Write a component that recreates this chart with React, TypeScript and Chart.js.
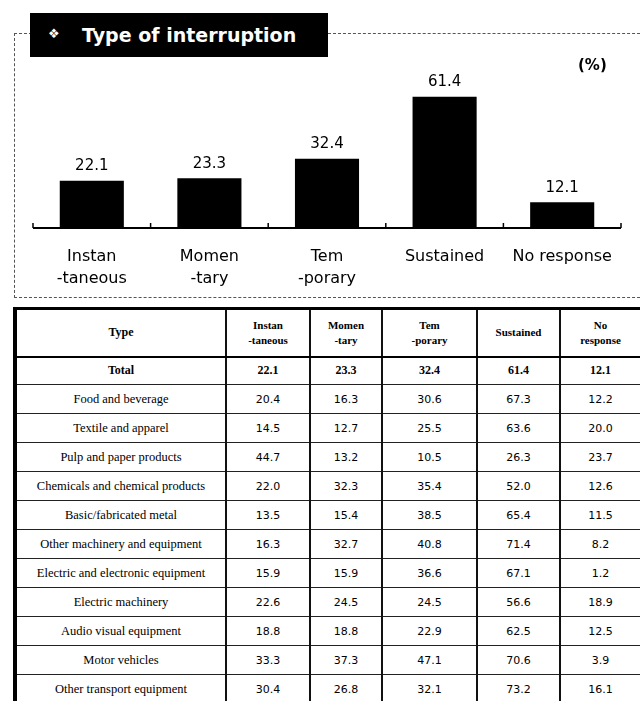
import React, { useEffect, useRef } from 'react';
import { Chart, registerables } from 'chart.js';

Chart.register(...registerables);

// Bar chart: share of firms by type of power interruption (%)
const categories: string[][] = [
  ['Instan', '-taneous'],
  ['Momen', '-tary'],
  ['Tem', '-porary'],
  ['Sustained'],
  ['No response'],
];
const shares = [22.1, 23.3, 32.4, 61.4, 12.1];

// Table headings
const tableHeads: string[][] = [
  ['Instan', '-taneous'],
  ['Momen', '-tary'],
  ['Tem', '-porary'],
  ['Sustained'],
  ['No', 'response'],
];

// Table rows by industry
const industries = [
  'Food and beverage',
  'Textile and apparel',
  'Pulp and paper products',
  'Chemicals and chemical products',
  'Basic/fabricated metal',
  'Other machinery and equipment',
  'Electric and electronic equipment',
  'Electric machinery',
  'Audio visual equipment',
  'Motor vehicles',
  'Other transport equipment',
];
const instantaneous = [20.4, 14.5, 44.7, 22.0, 13.5, 16.3, 15.9, 22.6, 18.8, 33.3, 30.4];
const momentary = [16.3, 12.7, 13.2, 32.3, 15.4, 32.7, 15.9, 24.5, 18.8, 37.3, 26.8];
const temporary = [30.6, 25.5, 10.5, 35.4, 38.5, 40.8, 36.6, 24.5, 22.9, 47.1, 32.1];
const sustained = [67.3, 63.6, 26.3, 52.0, 65.4, 71.4, 67.1, 56.6, 62.5, 70.6, 73.2];
const noResponse = [12.2, 20.0, 23.7, 12.6, 11.5, 8.2, 1.2, 18.9, 12.5, 3.9, 16.1];

const SANS = '"DejaVu Sans", Verdana, sans-serif';
const SERIF = '"Liberation Serif", "DejaVu Serif", serif';

// Baseline with upward ticks at category boundaries, plus value labels
const barDecor = {
  id: 'barDecor',
  afterDatasetsDraw(chart: any) {
    const { ctx, chartArea, scales } = chart;
    const x = scales.x;
    const y0 = chartArea.bottom;
    ctx.save();
    ctx.strokeStyle = '#000';
    ctx.lineWidth = 2;
    const left = x.getPixelForValue(-0.5);
    const right = x.getPixelForValue(categories.length - 0.5);
    ctx.beginPath();
    ctx.moveTo(left, y0);
    ctx.lineTo(right, y0);
    ctx.stroke();
    ctx.lineWidth = 1.5;
    for (let i = 0; i <= categories.length; i++) {
      const px = x.getPixelForValue(i - 0.5);
      ctx.beginPath();
      ctx.moveTo(px, y0);
      ctx.lineTo(px, y0 - 5);
      ctx.stroke();
    }
    const meta = chart.getDatasetMeta(0);
    ctx.fillStyle = '#000';
    ctx.font = `15px ${SANS}`;
    ctx.textAlign = 'center';
    ctx.textBaseline = 'bottom';
    meta.data.forEach((bar: any, i: number) => {
      ctx.fillText(shares[i].toFixed(1), bar.x, bar.y - 7);
    });
    ctx.restore();
  },
};

function BarChart() {
  const ref = useRef<HTMLCanvasElement>(null);
  useEffect(() => {
    if (!ref.current) return;
    const chart = new Chart(ref.current, {
      type: 'bar',
      data: {
        labels: categories,
        datasets: [
          {
            data: shares,
            backgroundColor: '#000',
            borderWidth: 0,
            categoryPercentage: 1,
            barPercentage: 0.545,
          },
        ],
      },
      options: {
        animation: false,
        responsive: false,
        layout: { padding: { top: 57, left: 33, right: 19, bottom: 16 } },
        plugins: { legend: { display: false }, tooltip: { enabled: false } },
        scales: {
          x: {
            grid: { display: false },
            border: { display: false },
            ticks: {
              color: '#000',
              padding: 10,
              maxRotation: 0,
              autoSkip: false,
              font: { family: SANS, size: 16, lineHeight: 1.375 },
            },
          },
          y: { display: false, min: 0, max: 80 },
        },
      },
      plugins: [barDecor],
    });
    return () => chart.destroy();
  }, []);
  return (
    <canvas
      ref={ref}
      width={640}
      height={316}
      style={{ position: 'absolute', left: 0, top: 0, width: 640, height: 316 }}
    />
  );
}

const colWidths = [211, 84, 72, 95, 83, 81];

const cellBase: React.CSSProperties = {
  borderLeft: '2px solid #111',
  borderRight: '2px solid #111',
  borderTop: '1.5px solid #222',
  borderBottom: '1.5px solid #222',
  textAlign: 'center',
  verticalAlign: 'middle',
  padding: 0,
  color: '#000',
};

function DataTable() {
  const rows = industries.map((name, i) => [
    name,
    instantaneous[i],
    momentary[i],
    temporary[i],
    sustained[i],
    noResponse[i],
  ]);
  return (
    <table
      style={{
        position: 'absolute',
        left: 13,
        top: 307,
        width: 626,
        borderCollapse: 'collapse',
        tableLayout: 'fixed',
        borderTop: '3px solid #000',
        borderLeft: '4px solid #000',
        background: '#fff',
      }}
    >
      <colgroup>
        {colWidths.map((w, i) => (
          <col key={i} style={{ width: w }} />
        ))}
      </colgroup>
      <tbody>
        <tr style={{ height: 48 }}>
          <td
            style={{
              ...cellBase,
              borderLeft: '4px solid #000',
              borderTop: '3px solid #000',
              borderBottom: '2px solid #000',
              fontFamily: SERIF,
              fontWeight: 'bold',
              fontSize: 12,
            }}
          >
            Type
          </td>
          {tableHeads.map((h, i) => (
            <td
              key={i}
              style={{
                ...cellBase,
                borderTop: '3px solid #000',
                borderBottom: '2px solid #000',
                fontFamily: SERIF,
                fontWeight: 'bold',
                fontSize: 11,
                lineHeight: '15px',
              }}
            >
              {h.map((line, j) => (
                <div key={j}>{line}</div>
              ))}
            </td>
          ))}
        </tr>
        <tr style={{ height: 28 }}>
          <td
            style={{
              ...cellBase,
              borderLeft: '4px solid #000',
              fontFamily: SERIF,
              fontWeight: 'bold',
              fontSize: 12,
            }}
          >
            Total
          </td>
          {shares.map((v, i) => (
            <td
              key={i}
              style={{ ...cellBase, fontFamily: SERIF, fontWeight: 'bold', fontSize: 12 }}
            >
              {v.toFixed(1)}
            </td>
          ))}
        </tr>
        {rows.map((r, i) => (
          <tr key={i} style={{ height: 29 }}>
            <td
              style={{
                ...cellBase,
                borderLeft: '4px solid #000',
                fontFamily: SERIF,
                fontSize: 12.5,
              }}
            >
              {r[0]}
            </td>
            {r.slice(1).map((v, j) => (
              <td key={j} style={{ ...cellBase, fontFamily: SANS, fontSize: 11 }}>
                {(v as number).toFixed(1)}
              </td>
            ))}
          </tr>
        ))}
      </tbody>
    </table>
  );
}

export default function App() {
  return (
    <div
      style={{
        position: 'fixed',
        left: 0,
        top: 0,
        width: 640,
        height: 701,
        overflow: 'hidden',
        background: '#fff',
      }}
    >
      {/* dotted frame around the chart */}
      <div
        style={{
          position: 'absolute',
          left: 14,
          top: 33,
          width: 640,
          height: 263,
          borderLeft: '1px dashed #555',
          borderTop: '1px dashed #555',
          borderBottom: '1px dashed #555',
        }}
      />
      <BarChart />
      <div
        style={{
          position: 'absolute',
          left: 30,
          top: 13,
          width: 298,
          height: 44,
          background: '#000',
          color: '#fff',
          fontFamily: SANS,
        }}
      >
        <span style={{ position: 'absolute', left: 18, top: 13, fontSize: 13, lineHeight: '16px' }}>
          ❖
        </span>
        <span
          style={{
            position: 'absolute',
            left: 52,
            top: 10,
            fontSize: 19,
            fontWeight: 'bold',
            lineHeight: '24px',
            whiteSpace: 'nowrap',
          }}
        >
          Type of interruption
        </span>
      </div>
      <div
        style={{
          position: 'absolute',
          left: 578,
          top: 55,
          fontFamily: SANS,
          fontWeight: 'bold',
          fontSize: 15,
          lineHeight: '20px',
          color: '#000',
        }}
      >
        (%)
      </div>
      <DataTable />
    </div>
  );
}
